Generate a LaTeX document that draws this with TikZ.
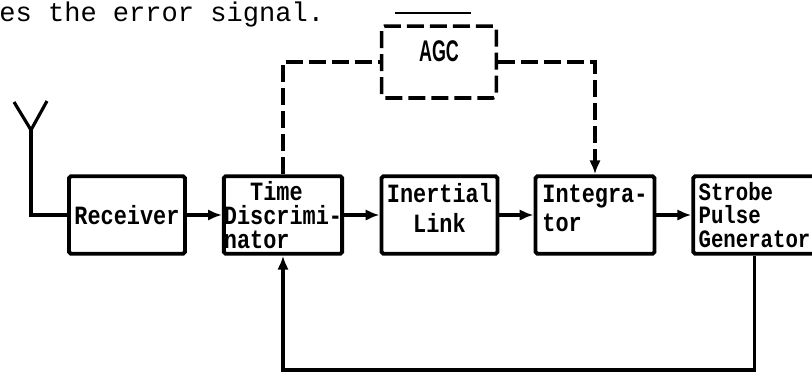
\documentclass[tikz,border=0pt]{standalone}
\usepackage{fontspec}
\setmonofont{Liberation Mono}
\newfontfamily\blkfont{Liberation Mono}[FakeStretch=0.83]
\newfontfamily\agcfont{Liberation Sans}
\usetikzlibrary{arrows.meta}

\begin{document}
\begin{tikzpicture}[x=0.02cm, y=-0.02cm,
    blk/.style={draw, line width=2.2pt, rounded corners=1pt, minimum width=2.32cm, minimum height=1.55cm,
        inner sep=0pt, align=left, font=\blkfont\bfseries\fontsize{15}{13.6}\selectfont},
    sig/.style={line width=2pt, -{Latex[length=2.8mm,width=2.3mm]}},
    ctl/.style={line width=2pt, dash pattern=on 0.34cm off 0.12cm}]
    \useasboundingbox (0,0) rectangle (812,373);
    \node[anchor=base west, inner sep=0pt, font=\ttfamily\fontsize{15.4}{18}\selectfont] (txt) at (-1,21) {es the error signal.};
    \draw[line width=1pt] (395,13) -- (471,13);

    \node[blk] (rec) at (127,215) {Receiver};
    \node[blk] (td) at (283,215) {\phantom{Di}Time\\Discrimi-\\nator};
    \node[blk, text depth=0.28cm] (il) at (439.5,215) {Inertial\\[3pt]\phantom{In}Link};
    \node[blk, minimum width=2.38cm, text depth=0.28cm] (int) at (595,215) {Integra-\\[3pt]tor};
    \node[blk, minimum width=2.45cm, font=\blkfont\bfseries\fontsize{14.2}{13.2}\selectfont] (spg) at (754.5,215) {Strobe\\Pulse\\Generator};
    \node[draw, ctl, rounded corners=2pt, minimum width=2.3cm, minimum height=1.44cm, text depth=0.44cm,
        font=\agcfont\bfseries\fontsize{17}{17}\selectfont] (agc) at (439,62) {\scalebox{0.6}[1]{AGC}};

    \coordinate (ant) at (31,130);
    \draw[line width=1.8pt] (14,102) -- (ant) -- (47,101);
    \draw[line width=2pt] (ant) |- (rec.west);

    \foreach \a/\b in {rec/td,td/il,il/int,int/spg}
        \draw[sig] (\a.east) -- (\b.west);

    \coordinate (fb) at (283,370);
    \draw[sig] (spg.south) |- (fb) -- (td.south);

    \draw[ctl] (td.north) |- (agc.west);
    \draw[ctl, -{Latex[length=2.8mm,width=2.3mm]}] (agc.east) -| (int.north);
\end{tikzpicture}
\end{document}
